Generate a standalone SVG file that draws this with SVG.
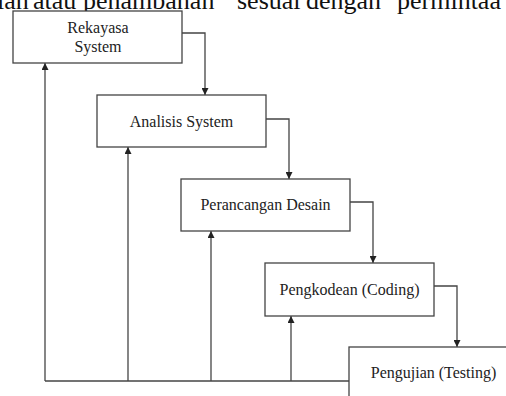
<svg xmlns="http://www.w3.org/2000/svg" width="506" height="396" viewBox="0 0 506 396">
<style>
.box{fill:#fff;stroke:#444;stroke-width:1.3}
.lbl{font-family:"Liberation Serif","Times New Roman",serif;font-size:16px;fill:#222;text-anchor:middle}
.ln{fill:none;stroke:#444;stroke-width:1.3}
.top{font-family:"Liberation Serif","Times New Roman",serif;font-size:26px;fill:#111}
</style>
<defs>
<marker id="ah" viewBox="0 0 10 10" refX="10" refY="5" markerWidth="7" markerHeight="7" markerUnits="userSpaceOnUse" orient="auto">
<path d="M0,0 L10,5 L0,10 z" fill="#222"/>
</marker>
</defs>
<rect width="506" height="396" fill="#fff"/>
<text class="top" y="8.5"><tspan x="-3">ian</tspan><tspan x="33">atau</tspan><tspan x="83">penambahan</tspan><tspan x="237">sesuai</tspan><tspan x="306">dengan</tspan><tspan x="397">permintaa</tspan></text>
<g id="connectors">
<path class="ln" d="M182,33 H205 V95" marker-end="url(#ah)"/>
<path class="ln" d="M266,119 H289 V179" marker-end="url(#ah)"/>
<path class="ln" d="M350,202 H373 V263" marker-end="url(#ah)"/>
<path class="ln" d="M434,286 H457 V347" marker-end="url(#ah)"/>
<path class="ln" d="M349,381 H45"/>
<path class="ln" d="M45,381 V63" marker-end="url(#ah)"/>
<path class="ln" d="M128,381 V147" marker-end="url(#ah)"/>
<path class="ln" d="M211,381 V231" marker-end="url(#ah)"/>
<path class="ln" d="M291,381 V316" marker-end="url(#ah)"/>
</g>
<g id="rekayasa">
<rect class="box" x="13" y="11" width="169" height="52"/>
<text class="lbl" x="98" y="33">Rekayasa</text>
<text class="lbl" x="98" y="52">System</text>
</g>
<g id="analisis">
<rect class="box" x="97" y="95" width="169" height="52"/>
<text class="lbl" x="181.5" y="127">Analisis System</text>
</g>
<g id="perancangan">
<rect class="box" x="181" y="179" width="169" height="52"/>
<text class="lbl" x="265.5" y="210">Perancangan Desain</text>
</g>
<g id="pengkodean">
<rect class="box" x="265" y="263" width="169" height="53"/>
<text class="lbl" x="349.5" y="295">Pengkodean (Coding)</text>
</g>
<g id="pengujian">
<rect class="box" x="349" y="347" width="170" height="60"/>
<text class="lbl" x="433.5" y="378">Pengujian (Testing)</text>
</g>
</svg>
